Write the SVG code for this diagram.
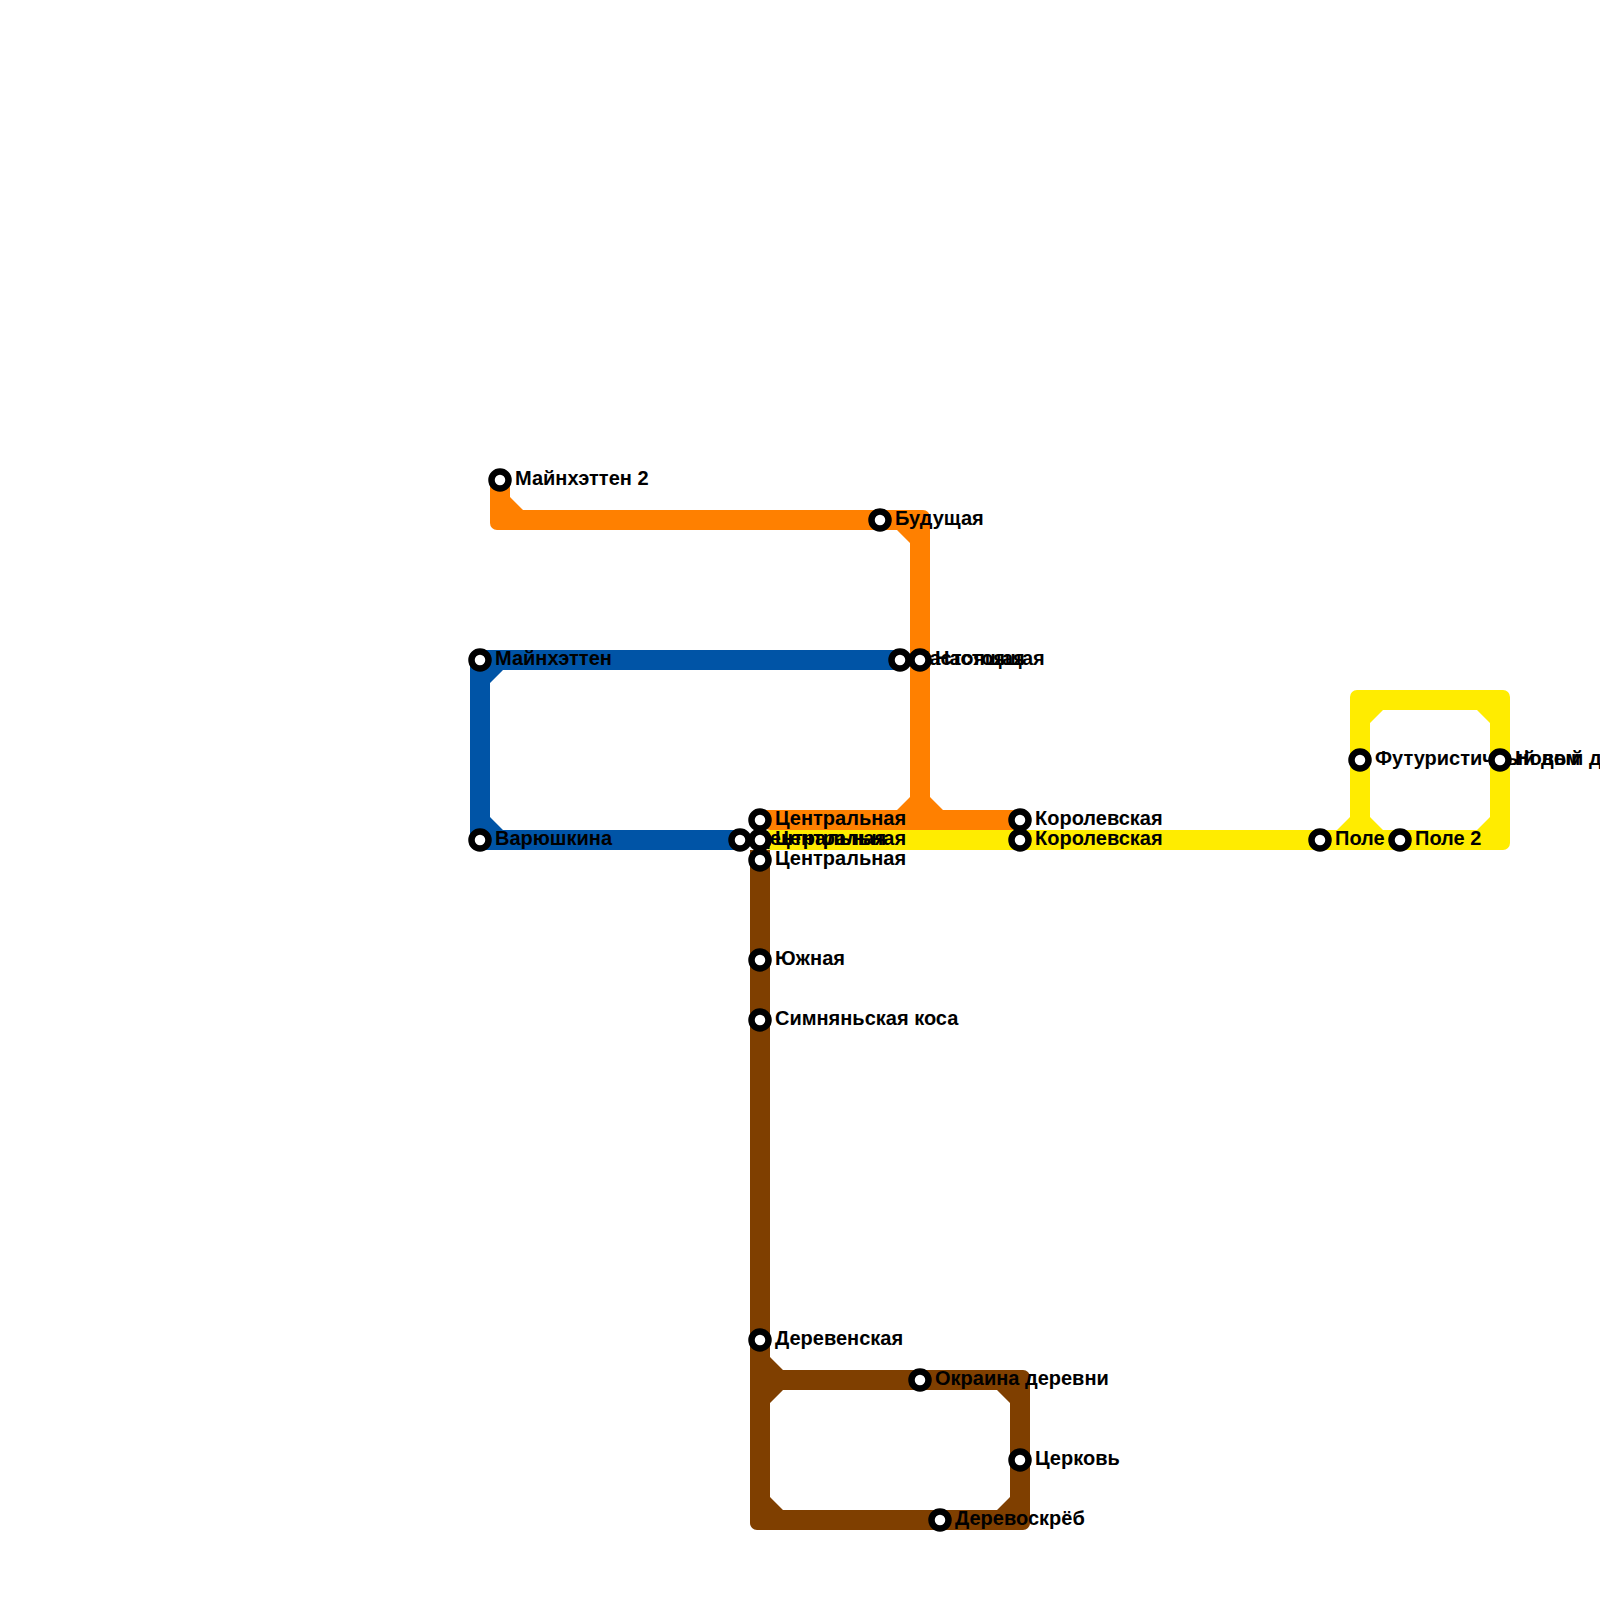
<svg xmlns="http://www.w3.org/2000/svg" width="1600" height="1600" viewBox="0 0 1600 1600">
<style>
.line{fill-rule:evenodd;stroke:none}
.st{fill:#fff;stroke:#000;stroke-width:6.5}
text{font-family:"Liberation Sans",Arial,sans-serif;font-weight:700;font-size:20px;fill:#000}
</style>
<rect width="1600" height="1600" fill="#fff"/>
<g id="connectors">
<path id="line-blue" class="line" fill="#0054a6" d="M477 650H900V670H503L490 683V817L503 830H740V850H477A7 7 0 0 1 470 843V657A7 7 0 0 1 477 650Z"/>
<path id="line-brown" class="line" fill="#7f3f00" d="M750 850H770V1357L783 1370H1023A7 7 0 0 1 1030 1377V1523A7 7 0 0 1 1023 1530H757A7 7 0 0 1 750 1523ZM783 1390L770 1403V1497L783 1510H997L1010 1497V1403L997 1390Z"/>
<path id="line-orange" class="line" fill="#ff8000" d="M490 480H510V497L523 510H923A7 7 0 0 1 930 517V797L943 810H1020V830H770A10 10 0 0 1 760 820V810H897L910 797V543L897 530H497A7 7 0 0 1 490 523Z"/>
<path id="line-yellow" class="line" fill="#ffec00" d="M770 830H1337L1350 817V697A7 7 0 0 1 1357 690H1503A7 7 0 0 1 1510 697V843A7 7 0 0 1 1503 850H770A10 10 0 0 1 770 830ZM1383 710L1370 723V817L1383 830H1477L1490 817V723L1477 710Z"/>
</g>
<g id="st-manhattan"><circle class="st" cx="480" cy="660" r="8.5"/><text x="495" y="665">Майнхэттен</text></g>
<g id="st-varyushkina"><circle class="st" cx="480" cy="840" r="8.5"/><text x="495" y="845">Варюшкина</text></g>
<g id="st-central-blue"><circle class="st" cx="740" cy="840" r="8.5"/><text x="755" y="845">Центральная</text></g>
<g id="st-present-blue"><circle class="st" cx="900" cy="660" r="8.5"/><text x="915" y="665">Настоящая</text></g>
<g id="st-manhattan2"><circle class="st" cx="500" cy="480" r="8.5"/><text x="515" y="485">Майнхэттен 2</text></g>
<g id="st-future"><circle class="st" cx="880" cy="520" r="8.5"/><text x="895" y="525">Будущая</text></g>
<g id="st-present"><circle class="st" cx="920" cy="660" r="8.5"/><text x="935" y="665">Настоящая</text></g>
<g id="st-central-orange"><circle class="st" cx="760" cy="820" r="8.5"/><text x="775" y="825">Центральная</text></g>
<g id="st-royal-orange"><circle class="st" cx="1020" cy="820" r="8.5"/><text x="1035" y="825">Королевская</text></g>
<g id="st-central-yellow"><circle class="st" cx="760" cy="840" r="8.5"/><text x="775" y="845">Центральная</text></g>
<g id="st-royal-yellow"><circle class="st" cx="1020" cy="840" r="8.5"/><text x="1035" y="845">Королевская</text></g>
<g id="st-field"><circle class="st" cx="1320" cy="840" r="8.5"/><text x="1335" y="845">Поле</text></g>
<g id="st-futuristic"><circle class="st" cx="1360" cy="760" r="8.5"/><text x="1375" y="765">Футуристичный дом</text></g>
<g id="st-field2"><circle class="st" cx="1400" cy="840" r="8.5"/><text x="1415" y="845">Поле 2</text></g>
<g id="st-newhome"><circle class="st" cx="1500" cy="760" r="8.5"/><text x="1515" y="765">Новый дом</text></g>
<g id="st-central-brown"><circle class="st" cx="760" cy="860" r="8.5"/><text x="775" y="865">Центральная</text></g>
<g id="st-south"><circle class="st" cx="760" cy="960" r="8.5"/><text x="775" y="965">Южная</text></g>
<g id="st-spit"><circle class="st" cx="760" cy="1020" r="8.5"/><text x="775" y="1025">Симняньская коса</text></g>
<g id="st-village"><circle class="st" cx="760" cy="1340" r="8.5"/><text x="775" y="1345">Деревенская</text></g>
<g id="st-outskirts"><circle class="st" cx="920" cy="1380" r="8.5"/><text x="935" y="1385">Окраина деревни</text></g>
<g id="st-church"><circle class="st" cx="1020" cy="1460" r="8.5"/><text x="1035" y="1465">Церковь</text></g>
<g id="st-treescraper"><circle class="st" cx="940" cy="1520" r="8.5"/><text x="955" y="1525">Деревоскрёб</text></g>
</svg>
